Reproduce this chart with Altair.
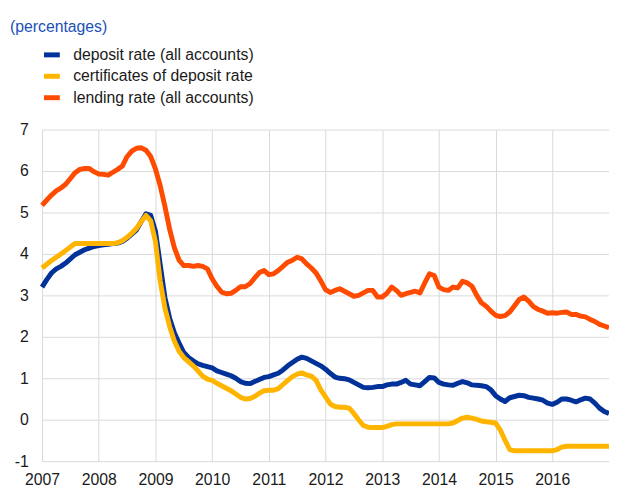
import altair as alt
import pandas as pd

# Monthly observations, January 2007 to January 2017
start_year = 2007
n_months = 121

deposit_rate = [
    3.20, 3.38, 3.54, 3.64, 3.70, 3.78, 3.88, 3.98, 4.04, 4.10, 4.14, 4.18,
    4.20, 4.22, 4.23, 4.25, 4.26, 4.30, 4.38, 4.48, 4.58, 4.78, 4.97, 4.93,
    4.55, 3.75, 2.95, 2.45, 2.10, 1.85, 1.62, 1.50, 1.42, 1.35, 1.31, 1.28,
    1.25, 1.18, 1.14, 1.10, 1.06, 1.00, 0.92, 0.88, 0.87, 0.92, 0.97, 1.02,
    1.04, 1.08, 1.12, 1.20, 1.30, 1.38, 1.46, 1.51, 1.48, 1.42, 1.36, 1.30,
    1.22, 1.12, 1.03, 1.00, 0.99, 0.96, 0.90, 0.84, 0.78, 0.77, 0.78, 0.80,
    0.80, 0.84, 0.86, 0.86, 0.90, 0.95, 0.86, 0.84, 0.82, 0.92, 1.02, 1.01,
    0.90, 0.86, 0.84, 0.83, 0.88, 0.92, 0.89, 0.84, 0.83, 0.82, 0.80, 0.72,
    0.58, 0.50, 0.44, 0.53, 0.56, 0.59, 0.58, 0.54, 0.52, 0.50, 0.47, 0.40,
    0.37, 0.42, 0.50, 0.50, 0.47, 0.43, 0.48, 0.52, 0.50, 0.40, 0.28, 0.20,
    0.15,
]

certificates_rate = [
    3.66, 3.75, 3.84, 3.92, 4.00, 4.08, 4.17, 4.25, 4.25, 4.25, 4.25, 4.25,
    4.25, 4.25, 4.25, 4.25, 4.27, 4.32, 4.40, 4.50, 4.62, 4.78, 4.93, 4.80,
    4.30, 3.35, 2.70, 2.25, 1.90, 1.65, 1.50, 1.40, 1.30, 1.18, 1.05, 0.98,
    0.95, 0.88, 0.82, 0.76, 0.70, 0.62, 0.54, 0.50, 0.51, 0.56, 0.64, 0.70,
    0.71, 0.71, 0.75, 0.85, 0.95, 1.04, 1.10, 1.13, 1.08, 1.05, 0.95, 0.72,
    0.55, 0.38, 0.32, 0.30, 0.30, 0.28, 0.15, 0.00, -0.14, -0.18, -0.19, -0.19,
    -0.19, -0.16, -0.12, -0.10, -0.10, -0.10, -0.10, -0.10, -0.10, -0.10, -0.10, -0.10,
    -0.10, -0.10, -0.10, -0.08, -0.02, 0.04, 0.06, 0.04, 0.01, -0.03, -0.05, -0.06,
    -0.08, -0.25, -0.50, -0.72, -0.75, -0.75, -0.75, -0.75, -0.75, -0.75, -0.75, -0.75,
    -0.75, -0.72, -0.66, -0.64, -0.64, -0.64, -0.64, -0.64, -0.64, -0.64, -0.64, -0.64,
    -0.64,
]

lending_rate = [
    5.17, 5.30, 5.42, 5.52, 5.59, 5.68, 5.82, 5.96, 6.04, 6.06, 6.06, 5.98,
    5.93, 5.92, 5.90, 5.97, 6.04, 6.12, 6.35, 6.48, 6.55, 6.56, 6.50, 6.35,
    6.05, 5.65, 5.15, 4.60, 4.15, 3.85, 3.72, 3.72, 3.70, 3.72, 3.70, 3.64,
    3.40, 3.22, 3.08, 3.04, 3.05, 3.12, 3.21, 3.21, 3.28, 3.42, 3.55, 3.60,
    3.50, 3.52, 3.60, 3.70, 3.80, 3.85, 3.92, 3.88, 3.76, 3.66, 3.54, 3.35,
    3.14, 3.07, 3.12, 3.16, 3.10, 3.04, 2.98, 3.00, 3.06, 3.12, 3.12, 2.96,
    2.96, 3.05, 3.20, 3.12, 3.00, 3.04, 3.07, 3.10, 3.06, 3.30, 3.52, 3.48,
    3.20, 3.14, 3.12, 3.20, 3.18, 3.34, 3.30, 3.22, 3.00, 2.82, 2.74, 2.62,
    2.52, 2.49, 2.51, 2.60, 2.75, 2.90, 2.96, 2.86, 2.73, 2.66, 2.62, 2.57,
    2.58, 2.57, 2.59, 2.60, 2.54, 2.54, 2.50, 2.48, 2.42, 2.37, 2.30, 2.26,
    2.22,
]

series_names = [
    "deposit rate (all accounts)",
    "certificates of deposit rate",
    "lending rate (all accounts)",
]
series_colors = ["#003299", "#ffb400", "#ff4b00"]
year_ticks = list(range(2007, 2017))
y_ticks = list(range(-1, 8))

dates = pd.date_range(f"{start_year}-01-01", periods=n_months, freq="MS")
time = [d.year + (d.month - 1) / 12 for d in dates]

rows = []
for name, vals in zip(series_names, [deposit_rate, certificates_rate, lending_rate]):
    for t, v in zip(time, vals):
        rows.append({"time": t, "value": v, "series": name})
df = pd.DataFrame(rows)

FONT = "Liberation Sans"

chart = (
    alt.Chart(df)
    .mark_line(strokeWidth=5, strokeJoin="round")
    .encode(
        x=alt.X(
            "time:Q",
            scale=alt.Scale(domain=[2007, 2017], nice=False, zero=False),
            axis=alt.Axis(
                title=None,
                values=year_ticks,
                labelExpr="'' + datum.value",
                grid=True,
                domain=False,
                ticks=False,
                labelPadding=11,
                labelFlush=False,
            ),
        ),
        y=alt.Y(
            "value:Q",
            scale=alt.Scale(domain=[-1, 7], nice=False, zero=False),
            axis=alt.Axis(
                title=None,
                values=y_ticks,
                labelExpr="'' + datum.value",
                grid=True,
                domain=False,
                ticks=False,
                labelPadding=14,
            ),
        ),
        color=alt.Color(
            "series:N",
            scale=alt.Scale(domain=series_names, range=series_colors),
            legend=alt.Legend(
                title=None,
                orient="none",
                legendX=-0.5,
                legendY=-86.2,
                symbolType="stroke",
                symbolSize=256,
                symbolStrokeWidth=5,
                labelOffset=11,
                rowPadding=0.7,
                padding=0,
                labelFontSize=16,
                labelFont=FONT,
                labelColor="#1a1a1a",
                labelLimit=400,
            ),
        ),
        order=alt.Order("time:Q"),
    )
    .properties(
        width=574.5,
        height=336,
        autosize=alt.AutoSizeParams(type="none"),
        padding={"left": 34.5, "top": 120, "right": 0, "bottom": 24},
        title=alt.TitleParams(
            "(percentages)",
            anchor="start",
            frame="group",
            fontSize=16,
            font=FONT,
            fontWeight="normal",
            color="#2050b8",
            dx=-32.5,
            offset=10,
        ),
    )
    .configure_axis(
        labelFontSize=16,
        labelFont=FONT,
        labelColor="#1a1a1a",
        gridColor="#d9d9d9",
        gridWidth=1,
    )
    .configure_view(stroke=None)
)

chart.save("out.html", embed_options={"renderer": "svg", "actions": False})
